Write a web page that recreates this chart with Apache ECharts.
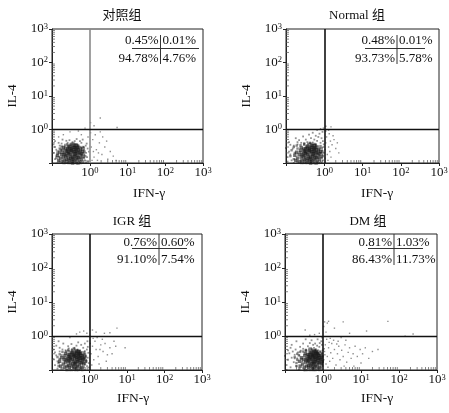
<!DOCTYPE html>
<html><head><meta charset="utf-8">
<script src="https://cdn.jsdelivr.net/npm/echarts@6/dist/echarts.min.js"></script>
<style>html,body{margin:0;padding:0;background:#fff}#c{width:449px;height:413px}</style>
</head><body><div id="c"></div>
<script>
// ---- data ----
const titles = ['对照组', 'Normal 组', 'IGR 组', 'DM 组'];
const xName = 'IFN-γ';
const yName = 'IL-4';
const tickValues = [1, 10, 100, 1000];
const tickSup = ['0', '1', '2', '3'];
const minorTicks = [0.2,0.3,0.4,0.5,0.6,0.7,0.8,0.9,2,3,4,5,6,7,8,9,20,30,40,50,60,70,80,90,200,300,400,500,600,700,800,900];
const pctUL = ['0.45%', '0.48%', '0.76%', '0.81%'];
const pctUR = ['0.01%', '0.01%', '0.60%', '1.03%'];
const pctLL = ['94.78%', '93.73%', '91.10%', '86.43%'];
const pctLR = ['4.76%', '5.78%', '7.54%', '11.73%'];

const core1 = [[0.34,0.2],[0.3,0.18],[0.38,0.22],[0.28,0.21],[0.42,0.19],[0.25,0.17],[0.36,0.15],[0.31,0.24],[0.45,0.23],[0.22,0.2],
[0.4,0.16],[0.33,0.27],[0.27,0.14],[0.48,0.17],[0.2,0.15],[0.37,0.13],[0.29,0.12],[0.52,0.21],[0.24,0.23],[0.43,0.26],
[0.35,0.3],[0.18,0.18],[0.55,0.15],[0.26,0.27],[0.46,0.13],[0.32,0.11],[0.21,0.12],[0.39,0.29],[0.58,0.19],[0.17,0.14],
[0.5,0.25],[0.23,0.26],[0.41,0.12],[0.3,0.32],[0.6,0.13],[0.16,0.21],[0.47,0.29],[0.35,0.1],[0.25,0.11],[0.53,0.11],
[0.19,0.24],[0.44,0.33],[0.64,0.22],[0.28,0.3],[0.15,0.12],[0.37,0.34],[0.66,0.16],[0.2,0.29],[0.49,0.1],[0.14,0.17],
[0.32,0.16],[0.27,0.19],[0.39,0.18],[0.36,0.25],[0.29,0.26],[0.44,0.15],[0.23,0.16],[0.41,0.22],[0.34,0.13],[0.26,0.22],
[0.31,0.14],[0.47,0.2],[0.21,0.18],[0.38,0.11],[0.33,0.23],[0.5,0.14],[0.24,0.13],[0.42,0.28],[0.19,0.11],[0.56,0.24]];
const mid1 = [[0.15,0.15],[0.14,0.22],[0.16,0.27],[0.18,0.31],[0.22,0.31],[0.26,0.33],[0.31,0.35],[0.38,0.38],[0.45,0.36],[0.52,0.31],
[0.58,0.28],[0.62,0.25],[0.68,0.2],[0.7,0.14],[0.64,0.11],[0.58,0.1],[0.45,0.1],[0.3,0.1],[0.2,0.1],[0.16,0.11],
[0.13,0.14],[0.17,0.25],[0.25,0.36],[0.34,0.38],[0.5,0.28],[0.6,0.17],[0.73,0.22],[0.76,0.16],[0.42,0.1],[0.27,0.1],
[0.55,0.19],[0.62,0.19],[0.19,0.2],[0.14,0.19],[0.4,0.33],[0.48,0.32],[0.22,0.1],[0.37,0.1],[0.7,0.27],[0.65,0.3]];
const halo1 = [[0.12,0.13],[0.11,0.2],[0.13,0.25],[0.12,0.3],[0.14,0.1],[0.16,0.33],[0.18,0.38],[0.22,0.35],[0.26,0.4],[0.31,0.38],
[0.35,0.42],[0.42,0.37],[0.5,0.35],[0.56,0.3],[0.62,0.28],[0.7,0.24],[0.72,0.18],[0.75,0.12],[0.68,0.1],[0.8,0.2],
[0.85,0.15],[0.88,0.27],[0.78,0.33],[0.6,0.4],[0.4,0.45],[0.24,0.46],[0.15,0.4],[0.11,0.36],[0.13,0.16],[0.7,0.3],
[0.9,0.11],[0.83,0.38],[0.55,0.45],[0.29,0.48],[0.19,0.5],[0.12,0.45],[0.45,0.52],[0.65,0.5],[0.8,0.1],[0.95,0.22]];
const sparse1 = [[1.1,0.3],[1.3,0.15],[1.2,0.5],[1.5,0.25],[1.8,0.4],[2.1,0.18],[1.4,0.7],[2.5,0.3],[3.0,0.13],[2.2,0.6],
[1.6,0.12],[3.5,0.22],[1.05,0.8],[1.25,0.22],[2.8,0.45],[4.2,0.16],[1.9,0.85],[1.15,0.12],[5.0,0.12],[1.7,0.2],
[1.9,2.2],[1.3,1.3],[5.3,1.15],[0.75,1.1],[0.5,0.9],[0.3,0.85],[1.05,1.6],[0.6,0.7],[0.9,0.6],[0.2,0.7],[0.15,0.6]];

const core2 = [[0.42,0.2],[0.37,0.18],[0.47,0.22],[0.34,0.21],[0.52,0.19],[0.31,0.17],[0.44,0.15],[0.39,0.24],[0.56,0.23],[0.28,0.2],
[0.5,0.16],[0.41,0.27],[0.33,0.14],[0.6,0.17],[0.25,0.15],[0.46,0.13],[0.36,0.12],[0.64,0.21],[0.3,0.23],[0.54,0.26],
[0.43,0.3],[0.22,0.18],[0.68,0.15],[0.32,0.27],[0.57,0.13],[0.4,0.11],[0.26,0.12],[0.48,0.29],[0.72,0.19],[0.2,0.14],
[0.62,0.25],[0.29,0.26],[0.51,0.12],[0.37,0.32],[0.75,0.13],[0.19,0.21],[0.58,0.29],[0.44,0.1],[0.31,0.11],[0.66,0.11],
[0.24,0.24],[0.55,0.33],[0.8,0.22],[0.35,0.3],[0.18,0.12],[0.46,0.34],[0.82,0.16],[0.25,0.29],[0.61,0.1],[0.17,0.17],
[0.4,0.16],[0.33,0.19],[0.49,0.18],[0.45,0.25],[0.36,0.26],[0.55,0.15],[0.28,0.16],[0.51,0.22],[0.42,0.13],[0.32,0.22],
[0.38,0.14],[0.59,0.2],[0.26,0.18],[0.47,0.11],[0.41,0.23],[0.63,0.14],[0.3,0.13],[0.53,0.28],[0.23,0.11],[0.7,0.24]];
const mid2 = [[0.13,0.16],[0.14,0.24],[0.16,0.3],[0.19,0.33],[0.24,0.34],[0.3,0.35],[0.38,0.37],[0.46,0.38],[0.55,0.37],[0.63,0.32],
[0.7,0.28],[0.76,0.25],[0.84,0.2],[0.86,0.14],[0.8,0.11],[0.7,0.1],[0.55,0.1],[0.37,0.1],[0.25,0.1],[0.2,0.11],
[0.16,0.13],[0.2,0.27],[0.3,0.38],[0.42,0.4],[0.62,0.29],[0.74,0.17],[0.9,0.22],[0.93,0.16],[0.5,0.1],[0.33,0.1],
[0.68,0.19],[0.78,0.2],[0.23,0.21],[0.17,0.2],[0.5,0.34],[0.6,0.35],[0.28,0.1],[0.45,0.1],[0.86,0.28],[0.8,0.32]];
const halo2 = [[0.11,0.15],[0.12,0.22],[0.1,0.28],[0.13,0.18],[0.14,0.12],[0.15,0.27],[0.16,0.33],[0.13,0.35],[0.2,0.36],[0.25,0.4],
[0.3,0.38],[0.36,0.42],[0.42,0.39],[0.5,0.41],[0.6,0.36],[0.7,0.32],[0.78,0.28],[0.88,0.24],[0.9,0.18],[0.93,0.12],
[0.85,0.1],[0.95,0.3],[0.8,0.4],[0.65,0.46],[0.55,0.5],[0.45,0.55],[0.33,0.5],[0.22,0.48],[0.12,0.42],[0.18,0.55],
[0.7,0.6],[0.85,0.55],[0.92,0.45],[0.98,0.2],[0.6,0.65],[0.4,0.7],[0.28,0.62],[0.75,0.75],[0.9,0.85],[0.5,0.8],
[0.11,0.11],[0.16,0.1],[0.72,0.1],[0.97,0.36],[0.2,0.42]];
const sparse2 = [[1.05,0.25],[1.1,0.4],[1.2,0.18],[1.3,0.3],[1.15,0.6],[1.4,0.22],[1.6,0.35],[1.25,0.12],[1.8,0.5],[1.5,0.15],
[2.0,0.27],[1.35,0.75],[2.4,0.2],[1.7,0.65],[1.1,0.9],[2.2,0.4],[1.05,0.14],[1.45,0.45],[0.95,1.1],[1.1,1.25],
[1.5,1.2],[0.8,1.05],[0.65,0.95],[1.3,0.95]];

const core3 = [[0.4,0.22],[0.35,0.2],[0.45,0.24],[0.32,0.23],[0.5,0.21],[0.29,0.19],[0.42,0.17],[0.37,0.26],[0.53,0.25],[0.26,0.22],
[0.47,0.18],[0.39,0.29],[0.31,0.16],[0.56,0.19],[0.23,0.17],[0.43,0.15],[0.34,0.13],[0.6,0.23],[0.28,0.25],[0.51,0.28],
[0.41,0.32],[0.21,0.2],[0.64,0.17],[0.3,0.29],[0.54,0.14],[0.38,0.12],[0.25,0.13],[0.46,0.31],[0.67,0.21],[0.2,0.15],
[0.58,0.27],[0.27,0.28],[0.48,0.13],[0.35,0.34],[0.7,0.15],[0.18,0.23],[0.55,0.31],[0.41,0.11],[0.29,0.12],[0.62,0.12],
[0.22,0.26],[0.52,0.35],[0.74,0.24],[0.33,0.32],[0.17,0.13],[0.44,0.36],[0.77,0.18],[0.23,0.31],[0.57,0.11],[0.16,0.18],
[0.38,0.18],[0.31,0.21],[0.46,0.2],[0.42,0.27],[0.34,0.28],[0.52,0.17],[0.27,0.18],[0.48,0.24],[0.4,0.15],[0.3,0.24],
[0.36,0.15],[0.56,0.22],[0.24,0.2],[0.44,0.12],[0.39,0.25],[0.6,0.16],[0.28,0.14],[0.5,0.3],[0.22,0.12],[0.65,0.26]];
const mid3 = [[0.15,0.16],[0.14,0.24],[0.16,0.29],[0.19,0.34],[0.24,0.35],[0.28,0.36],[0.34,0.38],[0.4,0.4],[0.48,0.38],[0.56,0.34],
[0.62,0.3],[0.68,0.27],[0.73,0.21],[0.76,0.15],[0.7,0.12],[0.64,0.1],[0.5,0.1],[0.34,0.1],[0.24,0.1],[0.18,0.11],
[0.15,0.13],[0.18,0.27],[0.27,0.39],[0.38,0.43],[0.58,0.31],[0.66,0.19],[0.8,0.25],[0.83,0.18],[0.46,0.1],[0.3,0.1],
[0.62,0.21],[0.7,0.22],[0.21,0.23],[0.16,0.21],[0.45,0.35],[0.52,0.36],[0.26,0.1],[0.41,0.1],[0.76,0.3],[0.72,0.33]];
const halo3 = [[0.12,0.14],[0.11,0.21],[0.13,0.27],[0.12,0.33],[0.14,0.11],[0.16,0.35],[0.19,0.4],[0.23,0.38],[0.28,0.43],[0.34,0.41],
[0.4,0.45],[0.48,0.4],[0.56,0.38],[0.63,0.34],[0.7,0.3],[0.78,0.27],[0.82,0.2],[0.86,0.13],[0.75,0.1],[0.9,0.23],
[0.95,0.16],[0.93,0.32],[0.85,0.4],[0.68,0.45],[0.45,0.52],[0.27,0.5],[0.16,0.45],[0.11,0.4],[0.14,0.18],[0.75,0.36],
[0.97,0.12],[0.9,0.48],[0.6,0.55],[0.33,0.58],[0.2,0.6],[0.13,0.52],[0.5,0.65],[0.75,0.6],[0.15,0.7],[0.88,0.7]];
const sparse3 = [[1.1,0.3],[1.2,0.5],[1.3,0.2],[1.5,0.4],[1.4,0.7],[1.7,0.25],[2.0,0.55],[1.8,0.15],[2.3,0.35],[2.6,0.6],
[1.6,0.9],[3.0,0.28],[3.5,0.45],[2.2,0.8],[1.15,0.14],[4.0,0.3],[2.8,0.18],[1.25,0.85],[5.0,0.5],[8.9,0.45],
[1.9,0.4],[1.05,0.6],[2.5,1.2],[1.5,1.3],[3.5,1.25],[5.4,1.7],[1.2,1.5],[0.55,1.3],[0.7,1.4],[0.85,1.2],
[0.45,1.15],[0.3,0.9],[4.5,0.7]];

const core4 = [[0.55,0.22],[0.5,0.2],[0.6,0.24],[0.46,0.23],[0.66,0.21],[0.42,0.19],[0.57,0.17],[0.52,0.26],[0.7,0.25],[0.38,0.22],
[0.63,0.18],[0.54,0.29],[0.45,0.16],[0.74,0.19],[0.35,0.17],[0.59,0.15],[0.48,0.13],[0.78,0.23],[0.41,0.25],[0.68,0.28],
[0.56,0.32],[0.31,0.2],[0.82,0.17],[0.43,0.29],[0.71,0.14],[0.52,0.12],[0.37,0.13],[0.62,0.31],[0.86,0.21],[0.29,0.15],
[0.76,0.27],[0.39,0.28],[0.64,0.13],[0.49,0.34],[0.9,0.15],[0.27,0.23],[0.72,0.31],[0.56,0.11],[0.42,0.12],[0.8,0.12],
[0.33,0.26],[0.67,0.35],[0.93,0.24],[0.46,0.32],[0.25,0.13],[0.59,0.36],[0.95,0.18],[0.34,0.31],[0.75,0.11],[0.24,0.18],
[0.53,0.18],[0.45,0.21],[0.61,0.2],[0.57,0.27],[0.48,0.28],[0.68,0.17],[0.4,0.18],[0.64,0.24],[0.55,0.15],[0.44,0.24],
[0.5,0.15],[0.73,0.22],[0.36,0.2],[0.6,0.12],[0.54,0.25],[0.78,0.16],[0.41,0.14],[0.66,0.3],[0.32,0.12],[0.84,0.27]];
const mid4 = [[0.2,0.16],[0.18,0.24],[0.21,0.3],[0.25,0.34],[0.3,0.35],[0.36,0.36],[0.43,0.38],[0.51,0.4],[0.6,0.39],[0.7,0.34],
[0.77,0.3],[0.83,0.27],[0.9,0.21],[0.94,0.15],[0.88,0.12],[0.8,0.1],[0.64,0.1],[0.45,0.1],[0.32,0.1],[0.24,0.11],
[0.2,0.13],[0.23,0.27],[0.35,0.39],[0.48,0.43],[0.73,0.32],[0.86,0.19],[0.97,0.26],[0.98,0.18],[0.58,0.1],[0.38,0.1],
[0.78,0.21],[0.88,0.23],[0.27,0.21],[0.21,0.2],[0.56,0.36],[0.65,0.37],[0.34,0.1],[0.52,0.1],[0.93,0.31],[0.85,0.35]];
const halo4 = [[0.11,0.14],[0.12,0.2],[0.1,0.26],[0.13,0.31],[0.14,0.12],[0.15,0.23],[0.17,0.17],[0.18,0.28],[0.16,0.35],[0.2,0.13],
[0.21,0.22],[0.22,0.33],[0.19,0.4],[0.26,0.37],[0.3,0.42],[0.36,0.39],[0.43,0.43],[0.5,0.4],[0.58,0.45],[0.65,0.41],
[0.75,0.38],[0.85,0.34],[0.92,0.3],[0.97,0.13],[0.88,0.1],[0.98,0.38],[0.8,0.48],[0.7,0.52],[0.55,0.55],[0.4,0.5],
[0.25,0.48],[0.14,0.45],[0.12,0.38],[0.3,0.6],[0.45,0.62],[0.62,0.6],[0.82,0.62],[0.93,0.55],[0.2,0.7],[0.5,0.75],
[0.72,0.8],[0.9,0.7],[0.35,0.8],[0.95,0.9],[0.15,0.55],[0.11,0.1],[0.23,0.1],[0.28,0.18],[0.18,0.22],[0.24,0.27]];
const sparse4 = [[1.05,0.2],[1.1,0.35],[1.2,0.15],[1.15,0.55],[1.3,0.25],[1.4,0.45],[1.5,0.18],[1.6,0.32],[1.7,0.6],[1.8,0.22],
[2.0,0.4],[2.2,0.14],[2.4,0.3],[2.6,0.5],[2.8,0.2],[3.1,0.38],[3.4,0.25],[3.8,0.55],[4.2,0.17],[4.6,0.33],
[5.0,0.45],[5.5,0.22],[6.2,0.3],[7.0,0.5],[8.0,0.25],[9.5,0.4],[11,0.3],[13,0.45],[16,0.22],[20,0.35],
[28,0.4],[1.25,0.8],[1.9,0.75],[2.5,0.7],[3.0,0.9],[1.35,0.12],[6.5,0.13],[1.08,0.42],[1.55,0.85],[2.3,0.58],
[4.0,0.75],[1.12,0.28],[1.45,0.65],[3.6,0.13],[10,0.16],
[0.34,1.5],[1.1,2.6],[1.3,2.4],[1.4,2.7],[3.4,2.6],[14,1.4],[51,2.7],[235,1.15],[145,0.98],[0.8,1.2],
[0.6,1.1],[1.2,1.3],[2.0,1.7],[0.45,1.05],[5,1.2],[1.05,1.9]];

const cores = [core1, core2, core3, core4];
const mids = [mid1, mid2, mid3, mid4];
const halos = [halo1, halo2, halo3, halo4];
const sparses = [sparse1, sparse2, sparse3, sparse4];

// ---- layout (pixels) ----
const L = [
 {left:52, top:29, w:151, h:134, tx:122, ty:16, nx:149, ny:193, dv:160.5, hl:[132,199], hy:48.5, vy:[35,64], r1:40.5, r2:58.5, vCol:'#8a8a8a'},
 {left:286, top:29, w:153, h:134, tx:357, ty:16, nx:377, ny:193, dv:397, hl:[365,425], hy:48.5, vy:[35,64], r1:40.5, r2:58.5, vCol:'#111'},
 {left:52, top:234, w:150, h:136, tx:132, ty:222, nx:133, ny:398, dv:159, hl:[132,187], hy:248.5, vy:[234,265], r1:242.5, r2:260, vCol:'#111'},
 {left:285, top:234, w:152, h:136, tx:368, ty:222, nx:377, ny:398, dv:394, hl:[368,423], hy:248.5, vy:[234,265], r1:242.5, r2:260, vCol:'#111'}
];

const SERIF = "'Liberation Serif','Times New Roman',serif";
const CJK = "'Liberation Serif','Noto Sans CJK SC',serif";
const rich = {
  b: {fontSize: 13, fontFamily: SERIF, color: '#111', lineHeight: 14},
  s: {fontSize: 8.5, fontFamily: SERIF, color: '#111', verticalAlign: 'top', lineHeight: 9}
};
function fmt(v) {
  for (let i = 0; i < tickValues.length; i++) {
    if (Math.abs(Math.log10(v) - Math.log10(tickValues[i])) < 0.01) return '{b|10}{s|' + tickSup[i] + '}';
  }
  return '';
}

const grid = [], xAxis = [], yAxis = [], series = [], graphic = [];
L.forEach((p, i) => {
  grid.push({left: p.left, top: p.top, width: p.w, height: p.h, show: true, borderColor: '#222', borderWidth: 1, backgroundColor: 'transparent', outerBoundsMode: 'none', containLabel: false});
  const axCommon = {
    type: 'log', logBase: 10, min: 0.1, max: 1000, gridIndex: i,
    axisLine: {show: true, lineStyle: {color: '#222', width: 1}},
    axisTick: {show: true, inside: false, length: 3, lineStyle: {color: '#222', width: 1}},
    splitLine: {show: false}, minorTick: {show: false},
    axisLabel: {formatter: fmt, rich: rich, margin: 3, showMinLabel: true, showMaxLabel: true, hideOverlap: false}
  };
  xAxis.push(Object.assign({}, axCommon));
  yAxis.push(Object.assign({}, axCommon, {name: yName, nameLocation: 'middle', nameGap: 33, nameRotate: 90,
    nameTextStyle: {fontFamily: SERIF, fontSize: 13, color: '#111'},
    axisLabel: Object.assign({}, axCommon.axisLabel, {margin: 4})}));

  series.push({type: 'scatter', xAxisIndex: i, yAxisIndex: i, data: halos[i], symbol: 'rect', symbolSize: 1.8,
    itemStyle: {color: 'rgba(30,30,30,0.6)'}, silent: true, clip: true, z: 2});
  series.push({type: 'scatter', xAxisIndex: i, yAxisIndex: i, data: mids[i], symbol: 'rect', symbolSize: 2.4,
    itemStyle: {color: 'rgba(30,30,30,0.65)'}, silent: true, clip: true, z: 2});
  series.push({type: 'scatter', xAxisIndex: i, yAxisIndex: i, data: cores[i], symbol: 'rect', symbolSize: 3.4,
    itemStyle: {color: 'rgba(25,25,25,0.78)'}, silent: true, clip: true, z: 3});
  series.push({type: 'scatter', xAxisIndex: i, yAxisIndex: i, data: sparses[i], symbol: 'rect', symbolSize: 1.4,
    itemStyle: {color: 'rgba(70,70,70,0.75)'}, silent: true, clip: true, z: 2,
    markLine: {symbol: 'none', silent: true, label: {show: false}, animation: false,
      data: [{xAxis: 1, lineStyle: {color: p.vCol, width: 1.6, type: 'solid'}},
             {yAxis: 1, lineStyle: {color: '#111', width: 1.4, type: 'solid'}}]}});
  // minor log ticks (inside)
  series.push({type: 'scatter', xAxisIndex: i, yAxisIndex: i, data: minorTicks.map(v => [v, 0.1]), symbol: 'rect',
    symbolSize: [0.9, 3], symbolOffset: [0, -1.5], itemStyle: {color: '#555'}, silent: true, clip: false, z: 5});
  series.push({type: 'scatter', xAxisIndex: i, yAxisIndex: i, data: minorTicks.map(v => [0.1, v]), symbol: 'rect',
    symbolSize: [3, 0.9], symbolOffset: [1.5, 0], itemStyle: {color: '#555'}, silent: true, clip: false, z: 5});

  graphic.push({type: 'text', x: p.tx, y: p.ty, silent: true, style: {text: titles[i], align: 'center', verticalAlign: 'middle', font: '13px ' + CJK, fill: '#111'}});
  graphic.push({type: 'text', x: p.nx, y: p.ny, silent: true, style: {text: xName, align: 'center', verticalAlign: 'middle', font: '13.5px ' + SERIF, fill: '#111'}});
  // percentage box
  const pf = '13px ' + SERIF;
  graphic.push({type: 'text', x: p.dv - 2, y: p.r1, silent: true, style: {text: pctUL[i], align: 'right', verticalAlign: 'middle', font: pf, fill: '#111'}});
  graphic.push({type: 'text', x: p.dv + 2, y: p.r1, silent: true, style: {text: pctUR[i], align: 'left', verticalAlign: 'middle', font: pf, fill: '#111'}});
  graphic.push({type: 'text', x: p.dv - 2, y: p.r2, silent: true, style: {text: pctLL[i], align: 'right', verticalAlign: 'middle', font: pf, fill: '#111'}});
  graphic.push({type: 'text', x: p.dv + 2, y: p.r2, silent: true, style: {text: pctLR[i], align: 'left', verticalAlign: 'middle', font: pf, fill: '#111'}});
  graphic.push({type: 'line', silent: true, shape: {x1: p.hl[0], y1: p.hy, x2: p.hl[1], y2: p.hy}, style: {stroke: '#333', lineWidth: 1}});
  graphic.push({type: 'line', silent: true, shape: {x1: p.dv, y1: p.vy[0], x2: p.dv, y2: p.vy[1]}, style: {stroke: '#333', lineWidth: 1}});
});

const chart = echarts.init(document.getElementById('c'), null, {renderer: 'canvas'});
chart.setOption({animation: false, backgroundColor: '#fff', grid, xAxis, yAxis, series, graphic});
</script></body></html>
